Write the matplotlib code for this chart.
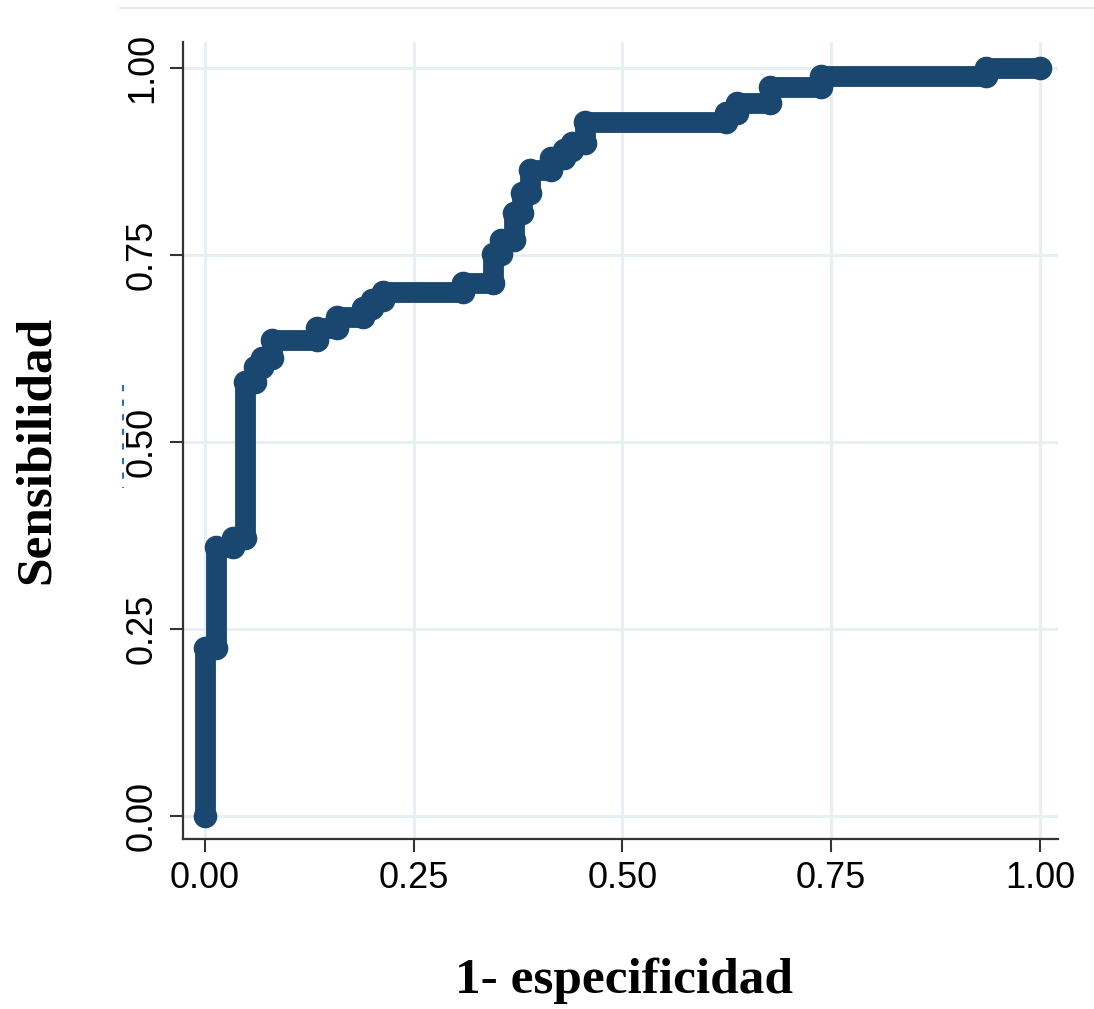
import matplotlib
matplotlib.use("Agg")
import matplotlib.pyplot as plt
from matplotlib.lines import Line2D

# Curva ROC: puntos (1 - especificidad, sensibilidad)
fpr = [0.000, 0.000, 0.014, 0.014, 0.034, 0.034, 0.048, 0.048, 0.060, 0.060,
       0.068, 0.068, 0.081, 0.081, 0.134, 0.134, 0.158, 0.158, 0.190, 0.190,
       0.200, 0.200, 0.213, 0.213, 0.309, 0.309, 0.345, 0.345, 0.355, 0.355,
       0.370, 0.370, 0.380, 0.380, 0.390, 0.390, 0.415, 0.415, 0.430, 0.430,
       0.440, 0.440, 0.455, 0.455, 0.624, 0.624, 0.637, 0.637, 0.677, 0.677,
       0.738, 0.738, 0.935, 0.935, 1.000]
tpr = [0.000, 0.225, 0.225, 0.360, 0.360, 0.372, 0.372, 0.580, 0.580, 0.600,
       0.600, 0.612, 0.612, 0.636, 0.636, 0.652, 0.652, 0.667, 0.667, 0.679,
       0.679, 0.690, 0.690, 0.700, 0.700, 0.712, 0.712, 0.752, 0.752, 0.770,
       0.770, 0.806, 0.806, 0.833, 0.833, 0.864, 0.864, 0.880, 0.880, 0.890,
       0.890, 0.900, 0.900, 0.928, 0.928, 0.940, 0.940, 0.954, 0.954, 0.975,
       0.975, 0.989, 0.989, 1.000, 1.000]

ticks = [0.00, 0.25, 0.50, 0.75, 1.00]
tick_labels = ["0.00", "0.25", "0.50", "0.75", "1.00"]

navy = "#1a476f"
grid_color = "#e6eff1"

fig = plt.figure(figsize=(10.94, 10.09), dpi=100)
ax = fig.add_axes([183 / 1094, 1 - 839 / 1009, (1058 - 183) / 1094, (839 - 42) / 1009])

ax.plot(fpr, tpr, color=navy, lw=15, marker="o", ms=16, mec=navy, mfc=navy,
        solid_joinstyle="round", solid_capstyle="round", zorder=3, clip_on=False)

ax.set_xlim(-0.026, 1.0216)
ax.set_ylim(-0.031, 1.035)
ax.set_xticks(ticks)
ax.set_yticks(ticks)
ax.set_xticklabels(tick_labels, fontsize=26, family="Liberation Sans")
ax.set_yticklabels(tick_labels, fontsize=26, family="Liberation Sans",
                   rotation=90, va="center")

ax.grid(True, color=grid_color, lw=2.2, zorder=0)
ax.set_axisbelow(True)
for side in ["top", "right"]:
    ax.spines[side].set_visible(False)
for side in ["left", "bottom"]:
    ax.spines[side].set_color("#333333")
    ax.spines[side].set_linewidth(1.6)
ax.tick_params(axis="both", length=9.5, width=1.5, color="#333333")
ax.tick_params(axis="x", pad=6)
ax.tick_params(axis="y", pad=7)

# etiquetas de los ejes
fig.text(624 / 1094, 1 - 993 / 1009, "1- especificidad", ha="center", va="baseline",
         fontsize=37, fontweight="bold", family="Liberation Serif")
fig.text(37 / 1094, 1 - 450 / 1009, "Sensibilidad", ha="center", va="center",
         rotation=90, fontsize=37, fontweight="bold", family="Liberation Serif")

# borde superior y trazo punteado junto al eje y
fig.add_artist(Line2D([120 / 1094, 1.0], [1 - 8 / 1009, 1 - 8 / 1009],
                      color="#e4e4e4", lw=1.2))
fig.add_artist(Line2D([123 / 1094, 123 / 1094], [1 - 385 / 1009, 1 - 488 / 1009],
                      color="#2f6db5", lw=1.5, ls=(0, (3, 4))))

fig.savefig("out.png", dpi=100)
